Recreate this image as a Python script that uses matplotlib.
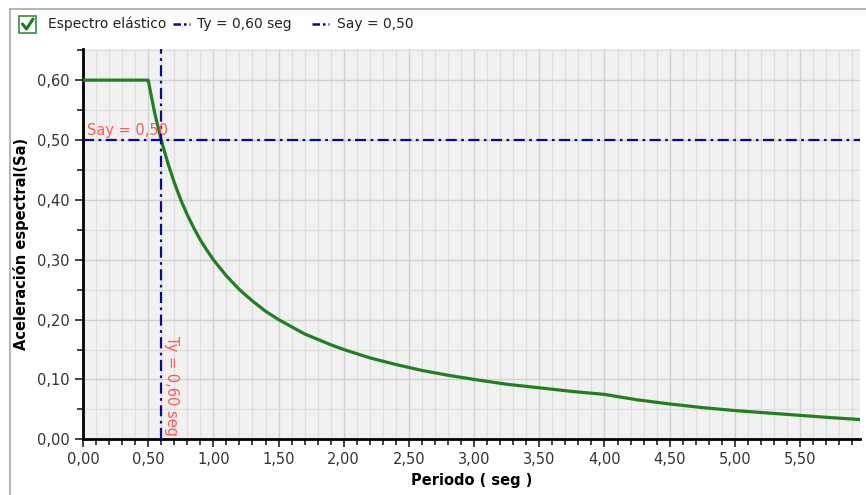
import numpy as np
import matplotlib
matplotlib.use("Agg")
import matplotlib.pyplot as plt
from matplotlib.lines import Line2D
from matplotlib.patches import Rectangle
from matplotlib.ticker import MultipleLocator, FuncFormatter

# elastic spectrum: period (s) vs spectral acceleration
periodo = [0.0, 0.5, 0.55, 0.6, 0.65, 0.7, 0.75, 0.8, 0.85, 0.9, 0.95,
           1.0, 1.1, 1.2, 1.3, 1.4, 1.5, 1.6, 1.7, 1.8, 1.9, 2.0,
           2.2, 2.4, 2.6, 2.8, 3.0, 3.25, 3.5, 3.75, 4.0, 4.25, 4.5, 4.75,
           5.0, 5.25, 5.5, 5.75, 5.96]
sa = [0.60, 0.60, 0.545, 0.50, 0.462, 0.429, 0.40, 0.375, 0.353, 0.333,
      0.316, 0.30, 0.273, 0.25, 0.231, 0.214, 0.20, 0.188, 0.176, 0.167,
      0.158, 0.15, 0.136, 0.125, 0.115, 0.107, 0.10, 0.092, 0.086, 0.08,
      0.075, 0.066, 0.059, 0.053, 0.048, 0.044, 0.040, 0.036, 0.033]

ty = 0.60
say = 0.50

green = '#217f21'
navy = '#0a0a8c'
red = '#ff5a5a'
dashdot = (0, (5, 2, 1.2, 2))

fig = plt.figure(figsize=(8.66, 4.95), dpi=100)
ax = fig.add_axes([83/866, 1-439.3/495, (860-83)/866, (439.3-49)/495])
ax.set_facecolor('#f1f1f1')

ax.plot(periodo, sa, color=green, lw=2.3, zorder=3)
ax.axvline(ty, color=navy, lw=1.6, ls=dashdot, zorder=4)
ax.axhline(say, color=navy, lw=1.6, ls=dashdot, zorder=4)

ax.text(0.03, say + 0.004, 'Say = 0,50', color=red, fontsize=10.5,
        ha='left', va='bottom', zorder=5)
ax.text(ty + 0.02, 0.006, 'Ty = 0,60 seg', color=red, fontsize=10.5,
        rotation=270, ha='left', va='bottom', zorder=5)

ax.set_xlim(0, 5.96)
ax.set_ylim(0, 0.652)

ax.xaxis.set_major_locator(MultipleLocator(0.5))
ax.xaxis.set_minor_locator(MultipleLocator(0.1))
ax.yaxis.set_major_locator(MultipleLocator(0.1))
ax.yaxis.set_minor_locator(MultipleLocator(0.05))
coma = FuncFormatter(lambda v, p: f'{v:.2f}'.replace('.', ','))
ax.xaxis.set_major_formatter(coma)
ax.yaxis.set_major_formatter(coma)

ax.grid(True, which='major', color='#cfcfcf', lw=1.0)
ax.grid(True, which='minor', color='#dedede', lw=0.9)
ax.set_axisbelow(True)

for s in ['top', 'right']:
    ax.spines[s].set_visible(False)
for s in ['left', 'bottom']:
    ax.spines[s].set_linewidth(2)
ax.tick_params(which='major', length=6, width=1.3, labelsize=10.5,
               colors='#333333', labelcolor='#333333')
ax.tick_params(which='minor', length=4, width=1.3, colors='#333333')

ax.set_xlabel('Periodo ( seg )', fontsize=10.5, fontweight='bold', labelpad=4)
ax.set_ylabel('Aceleración espectral(Sa)', fontsize=10.5, fontweight='bold',
              labelpad=6)

# panel frame
fig.add_artist(Line2D([10/866, 1], [1-9/495, 1-9/495], color='#a8a8a8', lw=1.2))
fig.add_artist(Line2D([10/866, 10/866], [0, 1-9/495], color='#a8a8a8', lw=1.2))

# legend row
ly = 1 - 24/495
fig.add_artist(Rectangle((19/866, 1-33/495), 17/866, 17/495, fill=False,
                         edgecolor='#3c8a3c', lw=1.2))
fig.add_artist(Line2D([22.5/866, 26.5/866, 33/866],
                      [1-24/495, 1-29/495, 1-19/495],
                      color='#1f7a1f', lw=2.2, solid_capstyle='round'))
fig.text(48/866, ly, 'Espectro elástico', fontsize=10, va='center', color='#222222')
fig.add_artist(Line2D([173/866, 190/866], [ly, ly], color=navy, lw=1.8,
                      ls=(0, (3, 1.2, 1, 1.2))))
fig.text(197/866, ly, 'Ty = 0,60 seg', fontsize=10, va='center', color='#222222')
fig.add_artist(Line2D([312/866, 329/866], [ly, ly], color=navy, lw=1.8,
                      ls=(0, (3, 1.2, 1, 1.2))))
fig.text(337/866, ly, 'Say = 0,50', fontsize=10, va='center', color='#222222')

fig.savefig('out.png', dpi=100)
